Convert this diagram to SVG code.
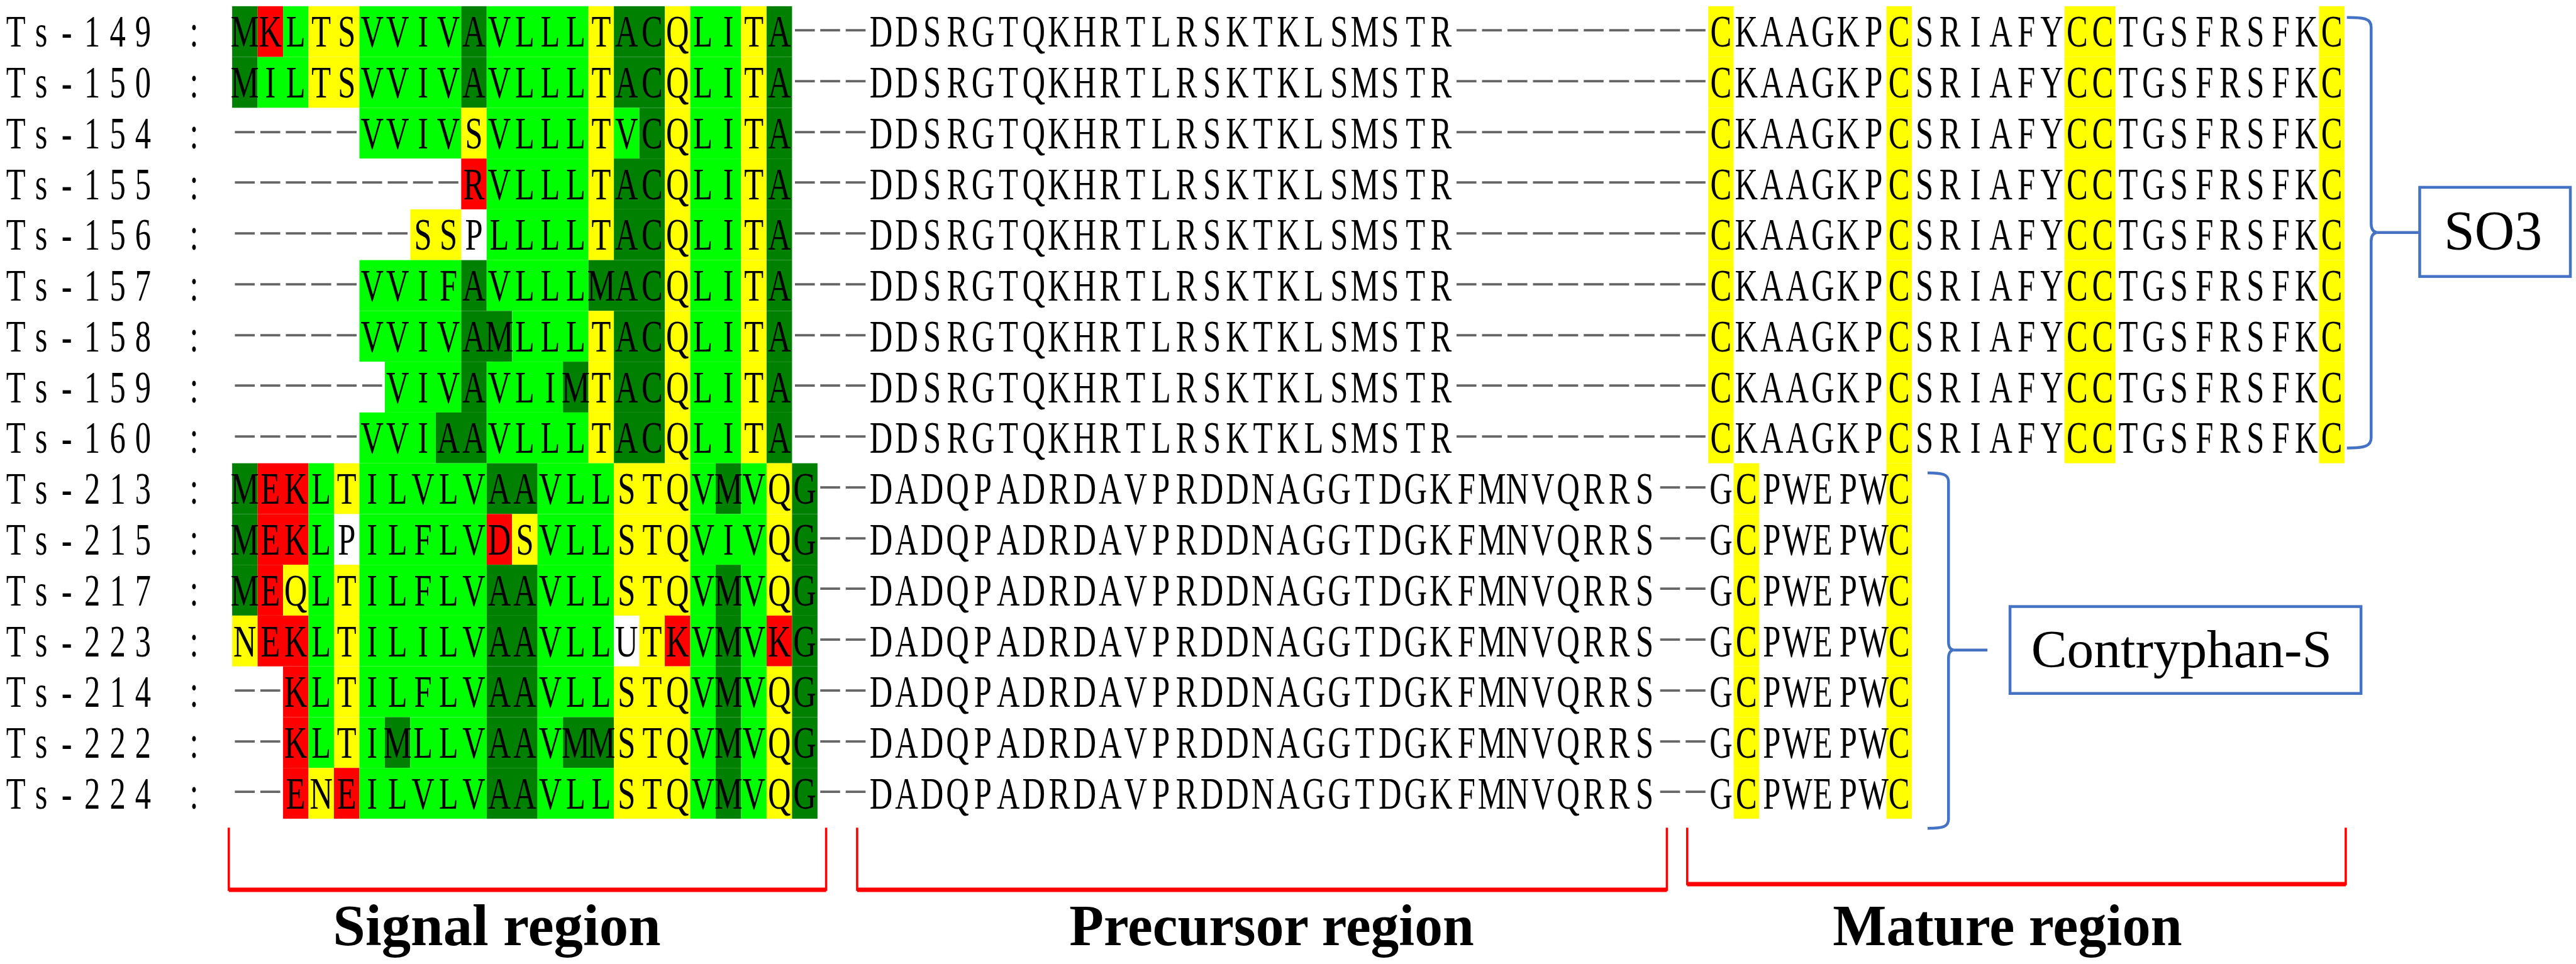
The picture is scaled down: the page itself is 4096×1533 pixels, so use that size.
<svg xmlns="http://www.w3.org/2000/svg" width="4096" height="1533" viewBox="0 0 4096 1533">
<style>
.s{font-family:"Liberation Serif","Times New Roman",serif;font-size:80px;text-anchor:middle;fill:#000}
.d{font-family:"Liberation Serif","Times New Roman",serif;font-size:56px;fill:#666}
.dg{fill:#008000}.g{fill:#00ff00}.y{fill:#ffff00}.r{fill:#ff0000}
.blue{fill:none;stroke:#4472c4;stroke-width:5}
.red{fill:none;stroke:#ff0000;stroke-width:4}
.redbar{stroke:#ff0000;stroke-width:8}
.lab{font-family:"Liberation Serif","Times New Roman",serif;font-size:103px;font-weight:bold;fill:#000}
.box{font-family:"Liberation Serif","Times New Roman",serif;fill:#000;text-anchor:middle}
</style>
<rect width="4096" height="1533" fill="#fff"/>
<g transform="scale(0.89726)">
<g id="alignment">
<g id="row-ts-149" transform="translate(5.5 11) scale(0.704688 1)">
<rect class="dg" x="576" width="64" height="90"/><rect class="r" x="640" width="64" height="90"/><rect class="g" x="704" width="64" height="90"/><rect class="y" x="768" width="128" height="90"/><rect class="g" x="896" width="256" height="90"/><rect class="dg" x="1152" width="64" height="90"/><rect class="g" x="1216" width="256" height="90"/><rect class="y" x="1472" width="64" height="90"/><rect class="dg" x="1536" width="128" height="90"/><rect class="y" x="1664" width="64" height="90"/><rect class="g" x="1728" width="128" height="90"/><rect class="y" x="1856" width="64" height="90"/><rect class="dg" x="1920" width="64" height="90"/>
<rect class="y" x="4288" width="64" height="90"/><rect class="y" x="4736" width="64" height="90"/><rect class="y" x="5184" width="128" height="90"/><rect class="y" x="5824" width="64" height="90"/>
<text class="s" x="32 96 160 224 288 352 416 480" y="72">Ts-149 :</text>
<text class="s" x="608 672 736 800 864 928 992 1056 1120 1184 1248 1312 1376 1440 1504 1568 1632 1696 1760 1824 1888 1952" y="72">MKLTSVVIVAVLLLTACQLITA</text>
<text class="d" x="1984" y="56" textLength="192" lengthAdjust="spacingAndGlyphs">---</text>
<text class="s" x="2208 2272 2336 2400 2464 2528 2592 2656 2720 2784 2848 2912 2976 3040 3104 3168 3232 3296 3360 3424 3488 3552 3616" y="72">DDSRGTQKHRTLRSKTKLSMSTR</text>
<text class="d" x="3648" y="56" textLength="640" lengthAdjust="spacingAndGlyphs">----------</text>
<text class="s" x="4320 4384 4448 4512 4576 4640 4704 4768 4832 4896 4960 5024 5088 5152 5216 5280 5344 5408 5472 5536 5600 5664 5728 5792 5856" y="72">CKAAGKPCSRIAFYCCTGSFRSFKC</text>
</g>
<g id="row-ts-150" transform="translate(5.5 101) scale(0.704688 1)">
<rect class="dg" x="576" width="64" height="90"/><rect class="g" x="640" width="128" height="90"/><rect class="y" x="768" width="128" height="90"/><rect class="g" x="896" width="256" height="90"/><rect class="dg" x="1152" width="64" height="90"/><rect class="g" x="1216" width="256" height="90"/><rect class="y" x="1472" width="64" height="90"/><rect class="dg" x="1536" width="128" height="90"/><rect class="y" x="1664" width="64" height="90"/><rect class="g" x="1728" width="128" height="90"/><rect class="y" x="1856" width="64" height="90"/><rect class="dg" x="1920" width="64" height="90"/>
<rect class="y" x="4288" width="64" height="90"/><rect class="y" x="4736" width="64" height="90"/><rect class="y" x="5184" width="128" height="90"/><rect class="y" x="5824" width="64" height="90"/>
<text class="s" x="32 96 160 224 288 352 416 480" y="72">Ts-150 :</text>
<text class="s" x="608 672 736 800 864 928 992 1056 1120 1184 1248 1312 1376 1440 1504 1568 1632 1696 1760 1824 1888 1952" y="72">MILTSVVIVAVLLLTACQLITA</text>
<text class="d" x="1984" y="56" textLength="192" lengthAdjust="spacingAndGlyphs">---</text>
<text class="s" x="2208 2272 2336 2400 2464 2528 2592 2656 2720 2784 2848 2912 2976 3040 3104 3168 3232 3296 3360 3424 3488 3552 3616" y="72">DDSRGTQKHRTLRSKTKLSMSTR</text>
<text class="d" x="3648" y="56" textLength="640" lengthAdjust="spacingAndGlyphs">----------</text>
<text class="s" x="4320 4384 4448 4512 4576 4640 4704 4768 4832 4896 4960 5024 5088 5152 5216 5280 5344 5408 5472 5536 5600 5664 5728 5792 5856" y="72">CKAAGKPCSRIAFYCCTGSFRSFKC</text>
</g>
<g id="row-ts-154" transform="translate(5.5 191) scale(0.704688 1)">
<rect class="g" x="896" width="256" height="90"/><rect class="y" x="1152" width="64" height="90"/><rect class="g" x="1216" width="256" height="90"/><rect class="y" x="1472" width="64" height="90"/><rect class="g" x="1536" width="64" height="90"/><rect class="dg" x="1600" width="64" height="90"/><rect class="y" x="1664" width="64" height="90"/><rect class="g" x="1728" width="128" height="90"/><rect class="y" x="1856" width="64" height="90"/><rect class="dg" x="1920" width="64" height="90"/>
<rect class="y" x="4288" width="64" height="90"/><rect class="y" x="4736" width="64" height="90"/><rect class="y" x="5184" width="128" height="90"/><rect class="y" x="5824" width="64" height="90"/>
<text class="s" x="32 96 160 224 288 352 416 480" y="72">Ts-154 :</text>
<text class="d" x="576" y="56" textLength="320" lengthAdjust="spacingAndGlyphs">-----</text>
<text class="s" x="928 992 1056 1120 1184 1248 1312 1376 1440 1504 1568 1632 1696 1760 1824 1888 1952" y="72">VVIVSVLLLTVCQLITA</text>
<text class="d" x="1984" y="56" textLength="192" lengthAdjust="spacingAndGlyphs">---</text>
<text class="s" x="2208 2272 2336 2400 2464 2528 2592 2656 2720 2784 2848 2912 2976 3040 3104 3168 3232 3296 3360 3424 3488 3552 3616" y="72">DDSRGTQKHRTLRSKTKLSMSTR</text>
<text class="d" x="3648" y="56" textLength="640" lengthAdjust="spacingAndGlyphs">----------</text>
<text class="s" x="4320 4384 4448 4512 4576 4640 4704 4768 4832 4896 4960 5024 5088 5152 5216 5280 5344 5408 5472 5536 5600 5664 5728 5792 5856" y="72">CKAAGKPCSRIAFYCCTGSFRSFKC</text>
</g>
<g id="row-ts-155" transform="translate(5.5 281) scale(0.704688 1)">
<rect class="r" x="1152" width="64" height="90"/><rect class="g" x="1216" width="256" height="90"/><rect class="y" x="1472" width="64" height="90"/><rect class="dg" x="1536" width="128" height="90"/><rect class="y" x="1664" width="64" height="90"/><rect class="g" x="1728" width="128" height="90"/><rect class="y" x="1856" width="64" height="90"/><rect class="dg" x="1920" width="64" height="90"/>
<rect class="y" x="4288" width="64" height="90"/><rect class="y" x="4736" width="64" height="90"/><rect class="y" x="5184" width="128" height="90"/><rect class="y" x="5824" width="64" height="90"/>
<text class="s" x="32 96 160 224 288 352 416 480" y="72">Ts-155 :</text>
<text class="d" x="576" y="56" textLength="576" lengthAdjust="spacingAndGlyphs">---------</text>
<text class="s" x="1184 1248 1312 1376 1440 1504 1568 1632 1696 1760 1824 1888 1952" y="72">RVLLLTACQLITA</text>
<text class="d" x="1984" y="56" textLength="192" lengthAdjust="spacingAndGlyphs">---</text>
<text class="s" x="2208 2272 2336 2400 2464 2528 2592 2656 2720 2784 2848 2912 2976 3040 3104 3168 3232 3296 3360 3424 3488 3552 3616" y="72">DDSRGTQKHRTLRSKTKLSMSTR</text>
<text class="d" x="3648" y="56" textLength="640" lengthAdjust="spacingAndGlyphs">----------</text>
<text class="s" x="4320 4384 4448 4512 4576 4640 4704 4768 4832 4896 4960 5024 5088 5152 5216 5280 5344 5408 5472 5536 5600 5664 5728 5792 5856" y="72">CKAAGKPCSRIAFYCCTGSFRSFKC</text>
</g>
<g id="row-ts-156" transform="translate(5.5 371) scale(0.704688 1)">
<rect class="y" x="1024" width="128" height="90"/><rect class="g" x="1216" width="256" height="90"/><rect class="y" x="1472" width="64" height="90"/><rect class="dg" x="1536" width="128" height="90"/><rect class="y" x="1664" width="64" height="90"/><rect class="g" x="1728" width="128" height="90"/><rect class="y" x="1856" width="64" height="90"/><rect class="dg" x="1920" width="64" height="90"/>
<rect class="y" x="4288" width="64" height="90"/><rect class="y" x="4736" width="64" height="90"/><rect class="y" x="5184" width="128" height="90"/><rect class="y" x="5824" width="64" height="90"/>
<text class="s" x="32 96 160 224 288 352 416 480" y="72">Ts-156 :</text>
<text class="d" x="576" y="56" textLength="448" lengthAdjust="spacingAndGlyphs">-------</text>
<text class="s" x="1056 1120 1184 1248 1312 1376 1440 1504 1568 1632 1696 1760 1824 1888 1952" y="72">SSPLLLLTACQLITA</text>
<text class="d" x="1984" y="56" textLength="192" lengthAdjust="spacingAndGlyphs">---</text>
<text class="s" x="2208 2272 2336 2400 2464 2528 2592 2656 2720 2784 2848 2912 2976 3040 3104 3168 3232 3296 3360 3424 3488 3552 3616" y="72">DDSRGTQKHRTLRSKTKLSMSTR</text>
<text class="d" x="3648" y="56" textLength="640" lengthAdjust="spacingAndGlyphs">----------</text>
<text class="s" x="4320 4384 4448 4512 4576 4640 4704 4768 4832 4896 4960 5024 5088 5152 5216 5280 5344 5408 5472 5536 5600 5664 5728 5792 5856" y="72">CKAAGKPCSRIAFYCCTGSFRSFKC</text>
</g>
<g id="row-ts-157" transform="translate(5.5 461) scale(0.704688 1)">
<rect class="g" x="896" width="256" height="90"/><rect class="dg" x="1152" width="64" height="90"/><rect class="g" x="1216" width="256" height="90"/><rect class="dg" x="1472" width="192" height="90"/><rect class="y" x="1664" width="64" height="90"/><rect class="g" x="1728" width="128" height="90"/><rect class="y" x="1856" width="64" height="90"/><rect class="dg" x="1920" width="64" height="90"/>
<rect class="y" x="4288" width="64" height="90"/><rect class="y" x="4736" width="64" height="90"/><rect class="y" x="5184" width="128" height="90"/><rect class="y" x="5824" width="64" height="90"/>
<text class="s" x="32 96 160 224 288 352 416 480" y="72">Ts-157 :</text>
<text class="d" x="576" y="56" textLength="320" lengthAdjust="spacingAndGlyphs">-----</text>
<text class="s" x="928 992 1056 1120 1184 1248 1312 1376 1440 1504 1568 1632 1696 1760 1824 1888 1952" y="72">VVIFAVLLLMACQLITA</text>
<text class="d" x="1984" y="56" textLength="192" lengthAdjust="spacingAndGlyphs">---</text>
<text class="s" x="2208 2272 2336 2400 2464 2528 2592 2656 2720 2784 2848 2912 2976 3040 3104 3168 3232 3296 3360 3424 3488 3552 3616" y="72">DDSRGTQKHRTLRSKTKLSMSTR</text>
<text class="d" x="3648" y="56" textLength="640" lengthAdjust="spacingAndGlyphs">----------</text>
<text class="s" x="4320 4384 4448 4512 4576 4640 4704 4768 4832 4896 4960 5024 5088 5152 5216 5280 5344 5408 5472 5536 5600 5664 5728 5792 5856" y="72">CKAAGKPCSRIAFYCCTGSFRSFKC</text>
</g>
<g id="row-ts-158" transform="translate(5.5 551) scale(0.704688 1)">
<rect class="g" x="896" width="256" height="90"/><rect class="dg" x="1152" width="128" height="90"/><rect class="g" x="1280" width="192" height="90"/><rect class="y" x="1472" width="64" height="90"/><rect class="dg" x="1536" width="128" height="90"/><rect class="y" x="1664" width="64" height="90"/><rect class="g" x="1728" width="128" height="90"/><rect class="y" x="1856" width="64" height="90"/><rect class="dg" x="1920" width="64" height="90"/>
<rect class="y" x="4288" width="64" height="90"/><rect class="y" x="4736" width="64" height="90"/><rect class="y" x="5184" width="128" height="90"/><rect class="y" x="5824" width="64" height="90"/>
<text class="s" x="32 96 160 224 288 352 416 480" y="72">Ts-158 :</text>
<text class="d" x="576" y="56" textLength="320" lengthAdjust="spacingAndGlyphs">-----</text>
<text class="s" x="928 992 1056 1120 1184 1248 1312 1376 1440 1504 1568 1632 1696 1760 1824 1888 1952" y="72">VVIVAMLLLTACQLITA</text>
<text class="d" x="1984" y="56" textLength="192" lengthAdjust="spacingAndGlyphs">---</text>
<text class="s" x="2208 2272 2336 2400 2464 2528 2592 2656 2720 2784 2848 2912 2976 3040 3104 3168 3232 3296 3360 3424 3488 3552 3616" y="72">DDSRGTQKHRTLRSKTKLSMSTR</text>
<text class="d" x="3648" y="56" textLength="640" lengthAdjust="spacingAndGlyphs">----------</text>
<text class="s" x="4320 4384 4448 4512 4576 4640 4704 4768 4832 4896 4960 5024 5088 5152 5216 5280 5344 5408 5472 5536 5600 5664 5728 5792 5856" y="72">CKAAGKPCSRIAFYCCTGSFRSFKC</text>
</g>
<g id="row-ts-159" transform="translate(5.5 641) scale(0.704688 1)">
<rect class="g" x="960" width="192" height="90"/><rect class="dg" x="1152" width="64" height="90"/><rect class="g" x="1216" width="192" height="90"/><rect class="dg" x="1408" width="64" height="90"/><rect class="y" x="1472" width="64" height="90"/><rect class="dg" x="1536" width="128" height="90"/><rect class="y" x="1664" width="64" height="90"/><rect class="g" x="1728" width="128" height="90"/><rect class="y" x="1856" width="64" height="90"/><rect class="dg" x="1920" width="64" height="90"/>
<rect class="y" x="4288" width="64" height="90"/><rect class="y" x="4736" width="64" height="90"/><rect class="y" x="5184" width="128" height="90"/><rect class="y" x="5824" width="64" height="90"/>
<text class="s" x="32 96 160 224 288 352 416 480" y="72">Ts-159 :</text>
<text class="d" x="576" y="56" textLength="384" lengthAdjust="spacingAndGlyphs">------</text>
<text class="s" x="992 1056 1120 1184 1248 1312 1376 1440 1504 1568 1632 1696 1760 1824 1888 1952" y="72">VIVAVLIMTACQLITA</text>
<text class="d" x="1984" y="56" textLength="192" lengthAdjust="spacingAndGlyphs">---</text>
<text class="s" x="2208 2272 2336 2400 2464 2528 2592 2656 2720 2784 2848 2912 2976 3040 3104 3168 3232 3296 3360 3424 3488 3552 3616" y="72">DDSRGTQKHRTLRSKTKLSMSTR</text>
<text class="d" x="3648" y="56" textLength="640" lengthAdjust="spacingAndGlyphs">----------</text>
<text class="s" x="4320 4384 4448 4512 4576 4640 4704 4768 4832 4896 4960 5024 5088 5152 5216 5280 5344 5408 5472 5536 5600 5664 5728 5792 5856" y="72">CKAAGKPCSRIAFYCCTGSFRSFKC</text>
</g>
<g id="row-ts-160" transform="translate(5.5 731) scale(0.704688 1)">
<rect class="g" x="896" width="192" height="90"/><rect class="dg" x="1088" width="128" height="90"/><rect class="g" x="1216" width="256" height="90"/><rect class="y" x="1472" width="64" height="90"/><rect class="dg" x="1536" width="128" height="90"/><rect class="y" x="1664" width="64" height="90"/><rect class="g" x="1728" width="128" height="90"/><rect class="y" x="1856" width="64" height="90"/><rect class="dg" x="1920" width="64" height="90"/>
<rect class="y" x="4288" width="64" height="90"/><rect class="y" x="4736" width="64" height="90"/><rect class="y" x="5184" width="128" height="90"/><rect class="y" x="5824" width="64" height="90"/>
<text class="s" x="32 96 160 224 288 352 416 480" y="72">Ts-160 :</text>
<text class="d" x="576" y="56" textLength="320" lengthAdjust="spacingAndGlyphs">-----</text>
<text class="s" x="928 992 1056 1120 1184 1248 1312 1376 1440 1504 1568 1632 1696 1760 1824 1888 1952" y="72">VVIAAVLLLTACQLITA</text>
<text class="d" x="1984" y="56" textLength="192" lengthAdjust="spacingAndGlyphs">---</text>
<text class="s" x="2208 2272 2336 2400 2464 2528 2592 2656 2720 2784 2848 2912 2976 3040 3104 3168 3232 3296 3360 3424 3488 3552 3616" y="72">DDSRGTQKHRTLRSKTKLSMSTR</text>
<text class="d" x="3648" y="56" textLength="640" lengthAdjust="spacingAndGlyphs">----------</text>
<text class="s" x="4320 4384 4448 4512 4576 4640 4704 4768 4832 4896 4960 5024 5088 5152 5216 5280 5344 5408 5472 5536 5600 5664 5728 5792 5856" y="72">CKAAGKPCSRIAFYCCTGSFRSFKC</text>
</g>
<g id="row-ts-213" transform="translate(5.5 821) scale(0.704688 1)">
<rect class="dg" x="576" width="64" height="90"/><rect class="r" x="640" width="128" height="90"/><rect class="g" x="768" width="64" height="90"/><rect class="y" x="832" width="64" height="90"/><rect class="g" x="896" width="320" height="90"/><rect class="dg" x="1216" width="128" height="90"/><rect class="g" x="1344" width="192" height="90"/><rect class="y" x="1536" width="192" height="90"/><rect class="g" x="1728" width="64" height="90"/><rect class="dg" x="1792" width="64" height="90"/><rect class="g" x="1856" width="64" height="90"/><rect class="y" x="1920" width="64" height="90"/><rect class="dg" x="1984" width="64" height="90"/>
<rect class="y" x="4352" width="64" height="90"/><rect class="y" x="4736" width="64" height="90"/>
<text class="s" x="32 96 160 224 288 352 416 480" y="72">Ts-213 :</text>
<text class="s" x="608 672 736 800 864 928 992 1056 1120 1184 1248 1312 1376 1440 1504 1568 1632 1696 1760 1824 1888 1952 2016" y="72">MEKLTILVLVAAVLLSTQVMVQG</text>
<text class="d" x="2048" y="56" textLength="128" lengthAdjust="spacingAndGlyphs">--</text>
<text class="s" x="2208 2272 2336 2400 2464 2528 2592 2656 2720 2784 2848 2912 2976 3040 3104 3168 3232 3296 3360 3424 3488 3552 3616 3680 3744 3808 3872 3936 4000 4064 4128" y="72">DADQPADRDAVPRDDNAGGTDGKFMNVQRRS</text>
<text class="d" x="4160" y="56" textLength="128" lengthAdjust="spacingAndGlyphs">--</text>
<text class="s" x="4320 4384 4448 4512 4576 4640 4704 4768" y="72">GCPWEPWC</text>
</g>
<g id="row-ts-215" transform="translate(5.5 911) scale(0.704688 1)">
<rect class="dg" x="576" width="64" height="90"/><rect class="r" x="640" width="128" height="90"/><rect class="g" x="768" width="64" height="90"/><rect class="g" x="896" width="320" height="90"/><rect class="r" x="1216" width="64" height="90"/><rect class="y" x="1280" width="64" height="90"/><rect class="g" x="1344" width="192" height="90"/><rect class="y" x="1536" width="192" height="90"/><rect class="g" x="1728" width="192" height="90"/><rect class="y" x="1920" width="64" height="90"/><rect class="dg" x="1984" width="64" height="90"/>
<rect class="y" x="4352" width="64" height="90"/><rect class="y" x="4736" width="64" height="90"/>
<text class="s" x="32 96 160 224 288 352 416 480" y="72">Ts-215 :</text>
<text class="s" x="608 672 736 800 864 928 992 1056 1120 1184 1248 1312 1376 1440 1504 1568 1632 1696 1760 1824 1888 1952 2016" y="72">MEKLPILFLVDSVLLSTQVIVQG</text>
<text class="d" x="2048" y="56" textLength="128" lengthAdjust="spacingAndGlyphs">--</text>
<text class="s" x="2208 2272 2336 2400 2464 2528 2592 2656 2720 2784 2848 2912 2976 3040 3104 3168 3232 3296 3360 3424 3488 3552 3616 3680 3744 3808 3872 3936 4000 4064 4128" y="72">DADQPADRDAVPRDDNAGGTDGKFMNVQRRS</text>
<text class="d" x="4160" y="56" textLength="128" lengthAdjust="spacingAndGlyphs">--</text>
<text class="s" x="4320 4384 4448 4512 4576 4640 4704 4768" y="72">GCPWEPWC</text>
</g>
<g id="row-ts-217" transform="translate(5.5 1001) scale(0.704688 1)">
<rect class="dg" x="576" width="64" height="90"/><rect class="r" x="640" width="64" height="90"/><rect class="y" x="704" width="64" height="90"/><rect class="g" x="768" width="64" height="90"/><rect class="y" x="832" width="64" height="90"/><rect class="g" x="896" width="320" height="90"/><rect class="dg" x="1216" width="128" height="90"/><rect class="g" x="1344" width="192" height="90"/><rect class="y" x="1536" width="192" height="90"/><rect class="g" x="1728" width="64" height="90"/><rect class="dg" x="1792" width="64" height="90"/><rect class="g" x="1856" width="64" height="90"/><rect class="y" x="1920" width="64" height="90"/><rect class="dg" x="1984" width="64" height="90"/>
<rect class="y" x="4352" width="64" height="90"/><rect class="y" x="4736" width="64" height="90"/>
<text class="s" x="32 96 160 224 288 352 416 480" y="72">Ts-217 :</text>
<text class="s" x="608 672 736 800 864 928 992 1056 1120 1184 1248 1312 1376 1440 1504 1568 1632 1696 1760 1824 1888 1952 2016" y="72">MEQLTILFLVAAVLLSTQVMVQG</text>
<text class="d" x="2048" y="56" textLength="128" lengthAdjust="spacingAndGlyphs">--</text>
<text class="s" x="2208 2272 2336 2400 2464 2528 2592 2656 2720 2784 2848 2912 2976 3040 3104 3168 3232 3296 3360 3424 3488 3552 3616 3680 3744 3808 3872 3936 4000 4064 4128" y="72">DADQPADRDAVPRDDNAGGTDGKFMNVQRRS</text>
<text class="d" x="4160" y="56" textLength="128" lengthAdjust="spacingAndGlyphs">--</text>
<text class="s" x="4320 4384 4448 4512 4576 4640 4704 4768" y="72">GCPWEPWC</text>
</g>
<g id="row-ts-223" transform="translate(5.5 1091) scale(0.704688 1)">
<rect class="y" x="576" width="64" height="90"/><rect class="r" x="640" width="128" height="90"/><rect class="g" x="768" width="64" height="90"/><rect class="y" x="832" width="64" height="90"/><rect class="g" x="896" width="320" height="90"/><rect class="dg" x="1216" width="128" height="90"/><rect class="g" x="1344" width="192" height="90"/><rect class="y" x="1600" width="64" height="90"/><rect class="r" x="1664" width="64" height="90"/><rect class="g" x="1728" width="64" height="90"/><rect class="dg" x="1792" width="64" height="90"/><rect class="g" x="1856" width="64" height="90"/><rect class="r" x="1920" width="64" height="90"/><rect class="dg" x="1984" width="64" height="90"/>
<rect class="y" x="4352" width="64" height="90"/><rect class="y" x="4736" width="64" height="90"/>
<text class="s" x="32 96 160 224 288 352 416 480" y="72">Ts-223 :</text>
<text class="s" x="608 672 736 800 864 928 992 1056 1120 1184 1248 1312 1376 1440 1504 1568 1632 1696 1760 1824 1888 1952 2016" y="72">NEKLTILILVAAVLLUTKVMVKG</text>
<text class="d" x="2048" y="56" textLength="128" lengthAdjust="spacingAndGlyphs">--</text>
<text class="s" x="2208 2272 2336 2400 2464 2528 2592 2656 2720 2784 2848 2912 2976 3040 3104 3168 3232 3296 3360 3424 3488 3552 3616 3680 3744 3808 3872 3936 4000 4064 4128" y="72">DADQPADRDAVPRDDNAGGTDGKFMNVQRRS</text>
<text class="d" x="4160" y="56" textLength="128" lengthAdjust="spacingAndGlyphs">--</text>
<text class="s" x="4320 4384 4448 4512 4576 4640 4704 4768" y="72">GCPWEPWC</text>
</g>
<g id="row-ts-214" transform="translate(5.5 1181) scale(0.704688 1)">
<rect class="r" x="704" width="64" height="90"/><rect class="g" x="768" width="64" height="90"/><rect class="y" x="832" width="64" height="90"/><rect class="g" x="896" width="320" height="90"/><rect class="dg" x="1216" width="128" height="90"/><rect class="g" x="1344" width="192" height="90"/><rect class="y" x="1536" width="192" height="90"/><rect class="g" x="1728" width="64" height="90"/><rect class="dg" x="1792" width="64" height="90"/><rect class="g" x="1856" width="64" height="90"/><rect class="y" x="1920" width="64" height="90"/><rect class="dg" x="1984" width="64" height="90"/>
<rect class="y" x="4352" width="64" height="90"/><rect class="y" x="4736" width="64" height="90"/>
<text class="s" x="32 96 160 224 288 352 416 480" y="72">Ts-214 :</text>
<text class="d" x="576" y="56" textLength="128" lengthAdjust="spacingAndGlyphs">--</text>
<text class="s" x="736 800 864 928 992 1056 1120 1184 1248 1312 1376 1440 1504 1568 1632 1696 1760 1824 1888 1952 2016" y="72">KLTILFLVAAVLLSTQVMVQG</text>
<text class="d" x="2048" y="56" textLength="128" lengthAdjust="spacingAndGlyphs">--</text>
<text class="s" x="2208 2272 2336 2400 2464 2528 2592 2656 2720 2784 2848 2912 2976 3040 3104 3168 3232 3296 3360 3424 3488 3552 3616 3680 3744 3808 3872 3936 4000 4064 4128" y="72">DADQPADRDAVPRDDNAGGTDGKFMNVQRRS</text>
<text class="d" x="4160" y="56" textLength="128" lengthAdjust="spacingAndGlyphs">--</text>
<text class="s" x="4320 4384 4448 4512 4576 4640 4704 4768" y="72">GCPWEPWC</text>
</g>
<g id="row-ts-222" transform="translate(5.5 1271) scale(0.704688 1)">
<rect class="r" x="704" width="64" height="90"/><rect class="g" x="768" width="64" height="90"/><rect class="y" x="832" width="64" height="90"/><rect class="g" x="896" width="64" height="90"/><rect class="dg" x="960" width="64" height="90"/><rect class="g" x="1024" width="192" height="90"/><rect class="dg" x="1216" width="128" height="90"/><rect class="g" x="1344" width="64" height="90"/><rect class="dg" x="1408" width="128" height="90"/><rect class="y" x="1536" width="192" height="90"/><rect class="g" x="1728" width="64" height="90"/><rect class="dg" x="1792" width="64" height="90"/><rect class="g" x="1856" width="64" height="90"/><rect class="y" x="1920" width="64" height="90"/><rect class="dg" x="1984" width="64" height="90"/>
<rect class="y" x="4352" width="64" height="90"/><rect class="y" x="4736" width="64" height="90"/>
<text class="s" x="32 96 160 224 288 352 416 480" y="72">Ts-222 :</text>
<text class="d" x="576" y="56" textLength="128" lengthAdjust="spacingAndGlyphs">--</text>
<text class="s" x="736 800 864 928 992 1056 1120 1184 1248 1312 1376 1440 1504 1568 1632 1696 1760 1824 1888 1952 2016" y="72">KLTIMLLVAAVMMSTQVMVQG</text>
<text class="d" x="2048" y="56" textLength="128" lengthAdjust="spacingAndGlyphs">--</text>
<text class="s" x="2208 2272 2336 2400 2464 2528 2592 2656 2720 2784 2848 2912 2976 3040 3104 3168 3232 3296 3360 3424 3488 3552 3616 3680 3744 3808 3872 3936 4000 4064 4128" y="72">DADQPADRDAVPRDDNAGGTDGKFMNVQRRS</text>
<text class="d" x="4160" y="56" textLength="128" lengthAdjust="spacingAndGlyphs">--</text>
<text class="s" x="4320 4384 4448 4512 4576 4640 4704 4768" y="72">GCPWEPWC</text>
</g>
<g id="row-ts-224" transform="translate(5.5 1361) scale(0.704688 1)">
<rect class="r" x="704" width="64" height="90"/><rect class="y" x="768" width="64" height="90"/><rect class="r" x="832" width="64" height="90"/><rect class="g" x="896" width="320" height="90"/><rect class="dg" x="1216" width="128" height="90"/><rect class="g" x="1344" width="192" height="90"/><rect class="y" x="1536" width="192" height="90"/><rect class="g" x="1728" width="64" height="90"/><rect class="dg" x="1792" width="64" height="90"/><rect class="g" x="1856" width="64" height="90"/><rect class="y" x="1920" width="64" height="90"/><rect class="dg" x="1984" width="64" height="90"/>
<rect class="y" x="4352" width="64" height="90"/><rect class="y" x="4736" width="64" height="90"/>
<text class="s" x="32 96 160 224 288 352 416 480" y="72">Ts-224 :</text>
<text class="d" x="576" y="56" textLength="128" lengthAdjust="spacingAndGlyphs">--</text>
<text class="s" x="736 800 864 928 992 1056 1120 1184 1248 1312 1376 1440 1504 1568 1632 1696 1760 1824 1888 1952 2016" y="72">ENEILVLVAAVLLSTQVMVQG</text>
<text class="d" x="2048" y="56" textLength="128" lengthAdjust="spacingAndGlyphs">--</text>
<text class="s" x="2208 2272 2336 2400 2464 2528 2592 2656 2720 2784 2848 2912 2976 3040 3104 3168 3232 3296 3360 3424 3488 3552 3616 3680 3744 3808 3872 3936 4000 4064 4128" y="72">DADQPADRDAVPRDDNAGGTDGKFMNVQRRS</text>
<text class="d" x="4160" y="56" textLength="128" lengthAdjust="spacingAndGlyphs">--</text>
<text class="s" x="4320 4384 4448 4512 4576 4640 4704 4768" y="72">GCPWEPWC</text>
</g>
</g>
<g id="connectors">
<path class="blue" d="M4159 31 C4190 31 4202 33 4202 48 V396 C4202 406 4205 411 4212 412 C4205 413 4202 418 4202 428 V776 C4202 791 4190 794 4159 794"/>
<path class="blue" d="M4212 412 H4286"/>
<path class="blue" d="M3416 838 C3444 838 3453 841 3453 854 V1137 C3453 1147 3456 1151 3462 1152 C3456 1153 3453 1157 3453 1167 V1452 C3453 1465 3444 1468 3416 1468"/>
<path class="blue" d="M3462 1152 H3522"/>
<path class="red" d="M405.5 1467 V1577 H1464 V1467"/>
<line class="redbar" x1="405.5" y1="1577" x2="1464" y2="1577"/>
<path class="red" d="M1519 1467 V1577 H2954 V1467"/>
<line class="redbar" x1="1519" y1="1577" x2="2954" y2="1577"/>
<path class="red" d="M2990 1467 V1567 H4157 V1467"/>
<line class="redbar" x1="2990" y1="1567" x2="4157" y2="1567"/>
</g>
<g id="so3">
<rect x="4288" y="332" width="267" height="158" fill="none" stroke="#4472c4" stroke-width="5"/>
<text class="box" x="4418" y="441" font-size="98">SO3</text>
</g>
<g id="contryphan-s">
<rect x="3562" y="1075" width="622" height="154" fill="none" stroke="#4472c4" stroke-width="5"/>
<text class="box" x="3866" y="1183" font-size="95">Contryphan-S</text>
</g>
<g id="region-labels">
<text class="lab" x="590" y="1675" textLength="581" lengthAdjust="spacingAndGlyphs">Signal region</text>
<text class="lab" x="1895" y="1675" textLength="717" lengthAdjust="spacingAndGlyphs">Precursor region</text>
<text class="lab" x="3248" y="1675" textLength="619" lengthAdjust="spacingAndGlyphs">Mature region</text>
</g>
</g>
</svg>
